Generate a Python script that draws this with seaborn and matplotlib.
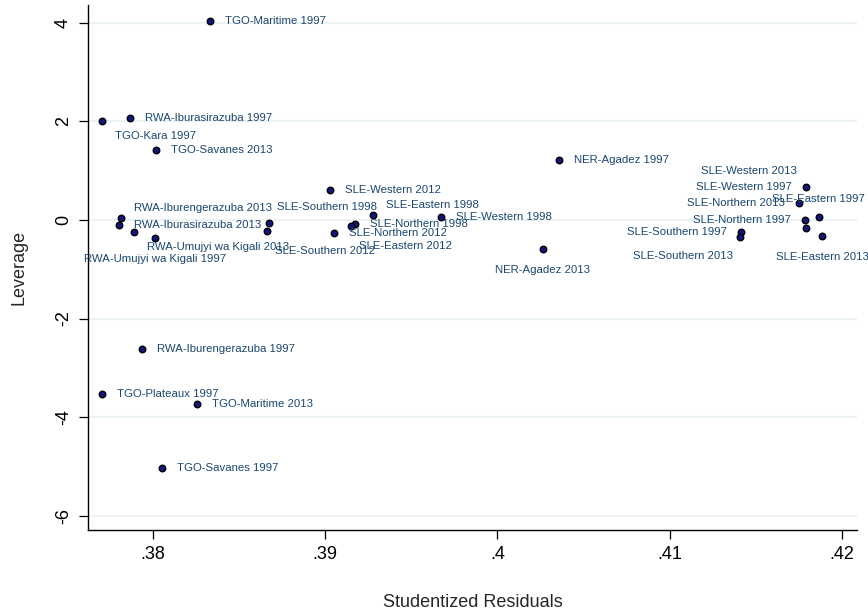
import pandas as pd
import seaborn as sns
import matplotlib.pyplot as plt

names = [
    'TGO-Maritime 1997', 'RWA-Iburasirazuba 1997', 'TGO-Kara 1997', 'TGO-Savanes 2013',
    'SLE-Western 2012', 'NER-Agadez 1997', 'RWA-Iburengerazuba 2013', 'RWA-Iburasirazuba 2013',
    'RWA-Umujyi wa Kigali 2013', 'RWA-Umujyi wa Kigali 1997', 'SLE-Southern 1998',
    'SLE-Southern 2012', 'SLE-Eastern 1998', 'SLE-Western 1998', 'SLE-Northern 1998',
    'SLE-Eastern 2012', 'SLE-Northern 2012', 'NER-Agadez 2013', 'SLE-Southern 1997',
    'SLE-Southern 2013', 'SLE-Western 1997', 'SLE-Northern 2013', 'SLE-Eastern 1997',
    'SLE-Northern 1997', 'SLE-Western 2013', 'SLE-Eastern 2013', 'RWA-Iburengerazuba 1997',
    'TGO-Plateaux 1997', 'TGO-Maritime 2013', 'TGO-Savanes 1997',
]
resid = [
    .38329, .37868, .37706, .38016,
    .39029, .40357, .37814, .37801,
    .37891, .38012, .38672,
    .38660, .39275, .39672, .39173,
    .39148, .39053, .40264, .41412,
    .41408, .41789, .41752, .41865,
    .41783, .41793, .41886, .37936,
    .37702, .38257, .38054,
]
leverage = [
    4.041, 2.061, 2.000, 1.412,
    0.606, 1.215, 0.032, -0.103,
    -0.252, -0.361, -0.069,
    -0.219, 0.093, 0.065, -0.089,
    -0.130, -0.272, -0.590, -0.239,
    -0.347, 0.661, 0.337, 0.059,
    -0.008, -0.170, -0.327, -2.613,
    -3.531, -3.728, -5.026,
]
# Stata-like clock position for each marker label
label_clock = [
    3, 3, 4, 3,
    3, 3, 2, 3,
    4, 6, 1,
    5, 2, 3, 3,
    5, 3, 6, 9,
    7, 9, 9, 12,
    9, 11, 6, 3,
    3, 3, 3,
]

xticks = [.38, .39, .40, .41, .42]
xtick_labels = ['.38', '.39', '.4', '.41', '.42']
yticks = [4, 2, 0, -2, -4, -6]
ytick_labels = ['4', '2', '0', '-2', '-4', '-6']

# label offsets in pixels (dx, dy downwards, alignment)
CLOCK = {
    3: (15, 0, 'left'),
    9: (-14, 0, 'right'),
    6: (0, 21, 'center'),
    12: (0, -18, 'center'),
    2: (13, -10.5, 'left'),
    1: (8, -16.5, 'left'),
    4: (13, 14.5, 'left'),
    5: (8.5, 20, 'left'),
    7: (-7, 19, 'right'),
    11: (-9, -57, 'right'),
}

LABEL_COLOR = '#1a476f'
GRID_COLOR = '#eaf2f3'

sns.set_style('white')
plt.rcParams['font.family'] = ['Liberation Sans', 'DejaVu Sans']

df = pd.DataFrame({'name': names, 'resid': resid, 'leverage': leverage})

fig = plt.figure(figsize=(8.68, 6.15), dpi=100)
ax = fig.add_axes([88 / 868, 1 - 530 / 615, (857 - 88) / 868, (530 - 5) / 615])

for yt in yticks:
    ax.axhline(yt, color=GRID_COLOR, lw=1.5, zorder=0)

sns.scatterplot(data=df, x='resid', y='leverage', ax=ax, s=22,
                color='#141480', edgecolor='black', linewidth=1.0, zorder=3)

for nm, xv, yv, ck in zip(names, resid, leverage, label_clock):
    dx, dy, ha = CLOCK[ck]
    ax.annotate(nm, (xv, yv), xytext=(dx, -dy), textcoords='offset pixels',
                ha=ha, va='center', fontsize=8.2, color=LABEL_COLOR, zorder=4)

ax.set_xlim(.37623, .42087)
ax.set_ylim(-6.29, 4.359)

ax.set_xticks(xticks)
ax.set_xticklabels(xtick_labels)
ax.set_yticks(yticks)
ax.set_yticklabels(ytick_labels, rotation=90, va='center')

ax.tick_params(axis='both', direction='out', length=6.5, width=0.9, color='black',
               labelsize=13, labelcolor='black', bottom=True, left=True)
ax.tick_params(axis='x', pad=5)
ax.tick_params(axis='y', pad=5)

for side in ['top', 'right']:
    ax.spines[side].set_visible(False)
for side in ['left', 'bottom']:
    ax.spines[side].set_color('black')
    ax.spines[side].set_linewidth(1.0)

ax.set_xlabel('Studentized Residuals', fontsize=13, labelpad=22)
ax.set_ylabel('Leverage', fontsize=13, labelpad=20)

fig.savefig('out.png', dpi=100, facecolor='white')
